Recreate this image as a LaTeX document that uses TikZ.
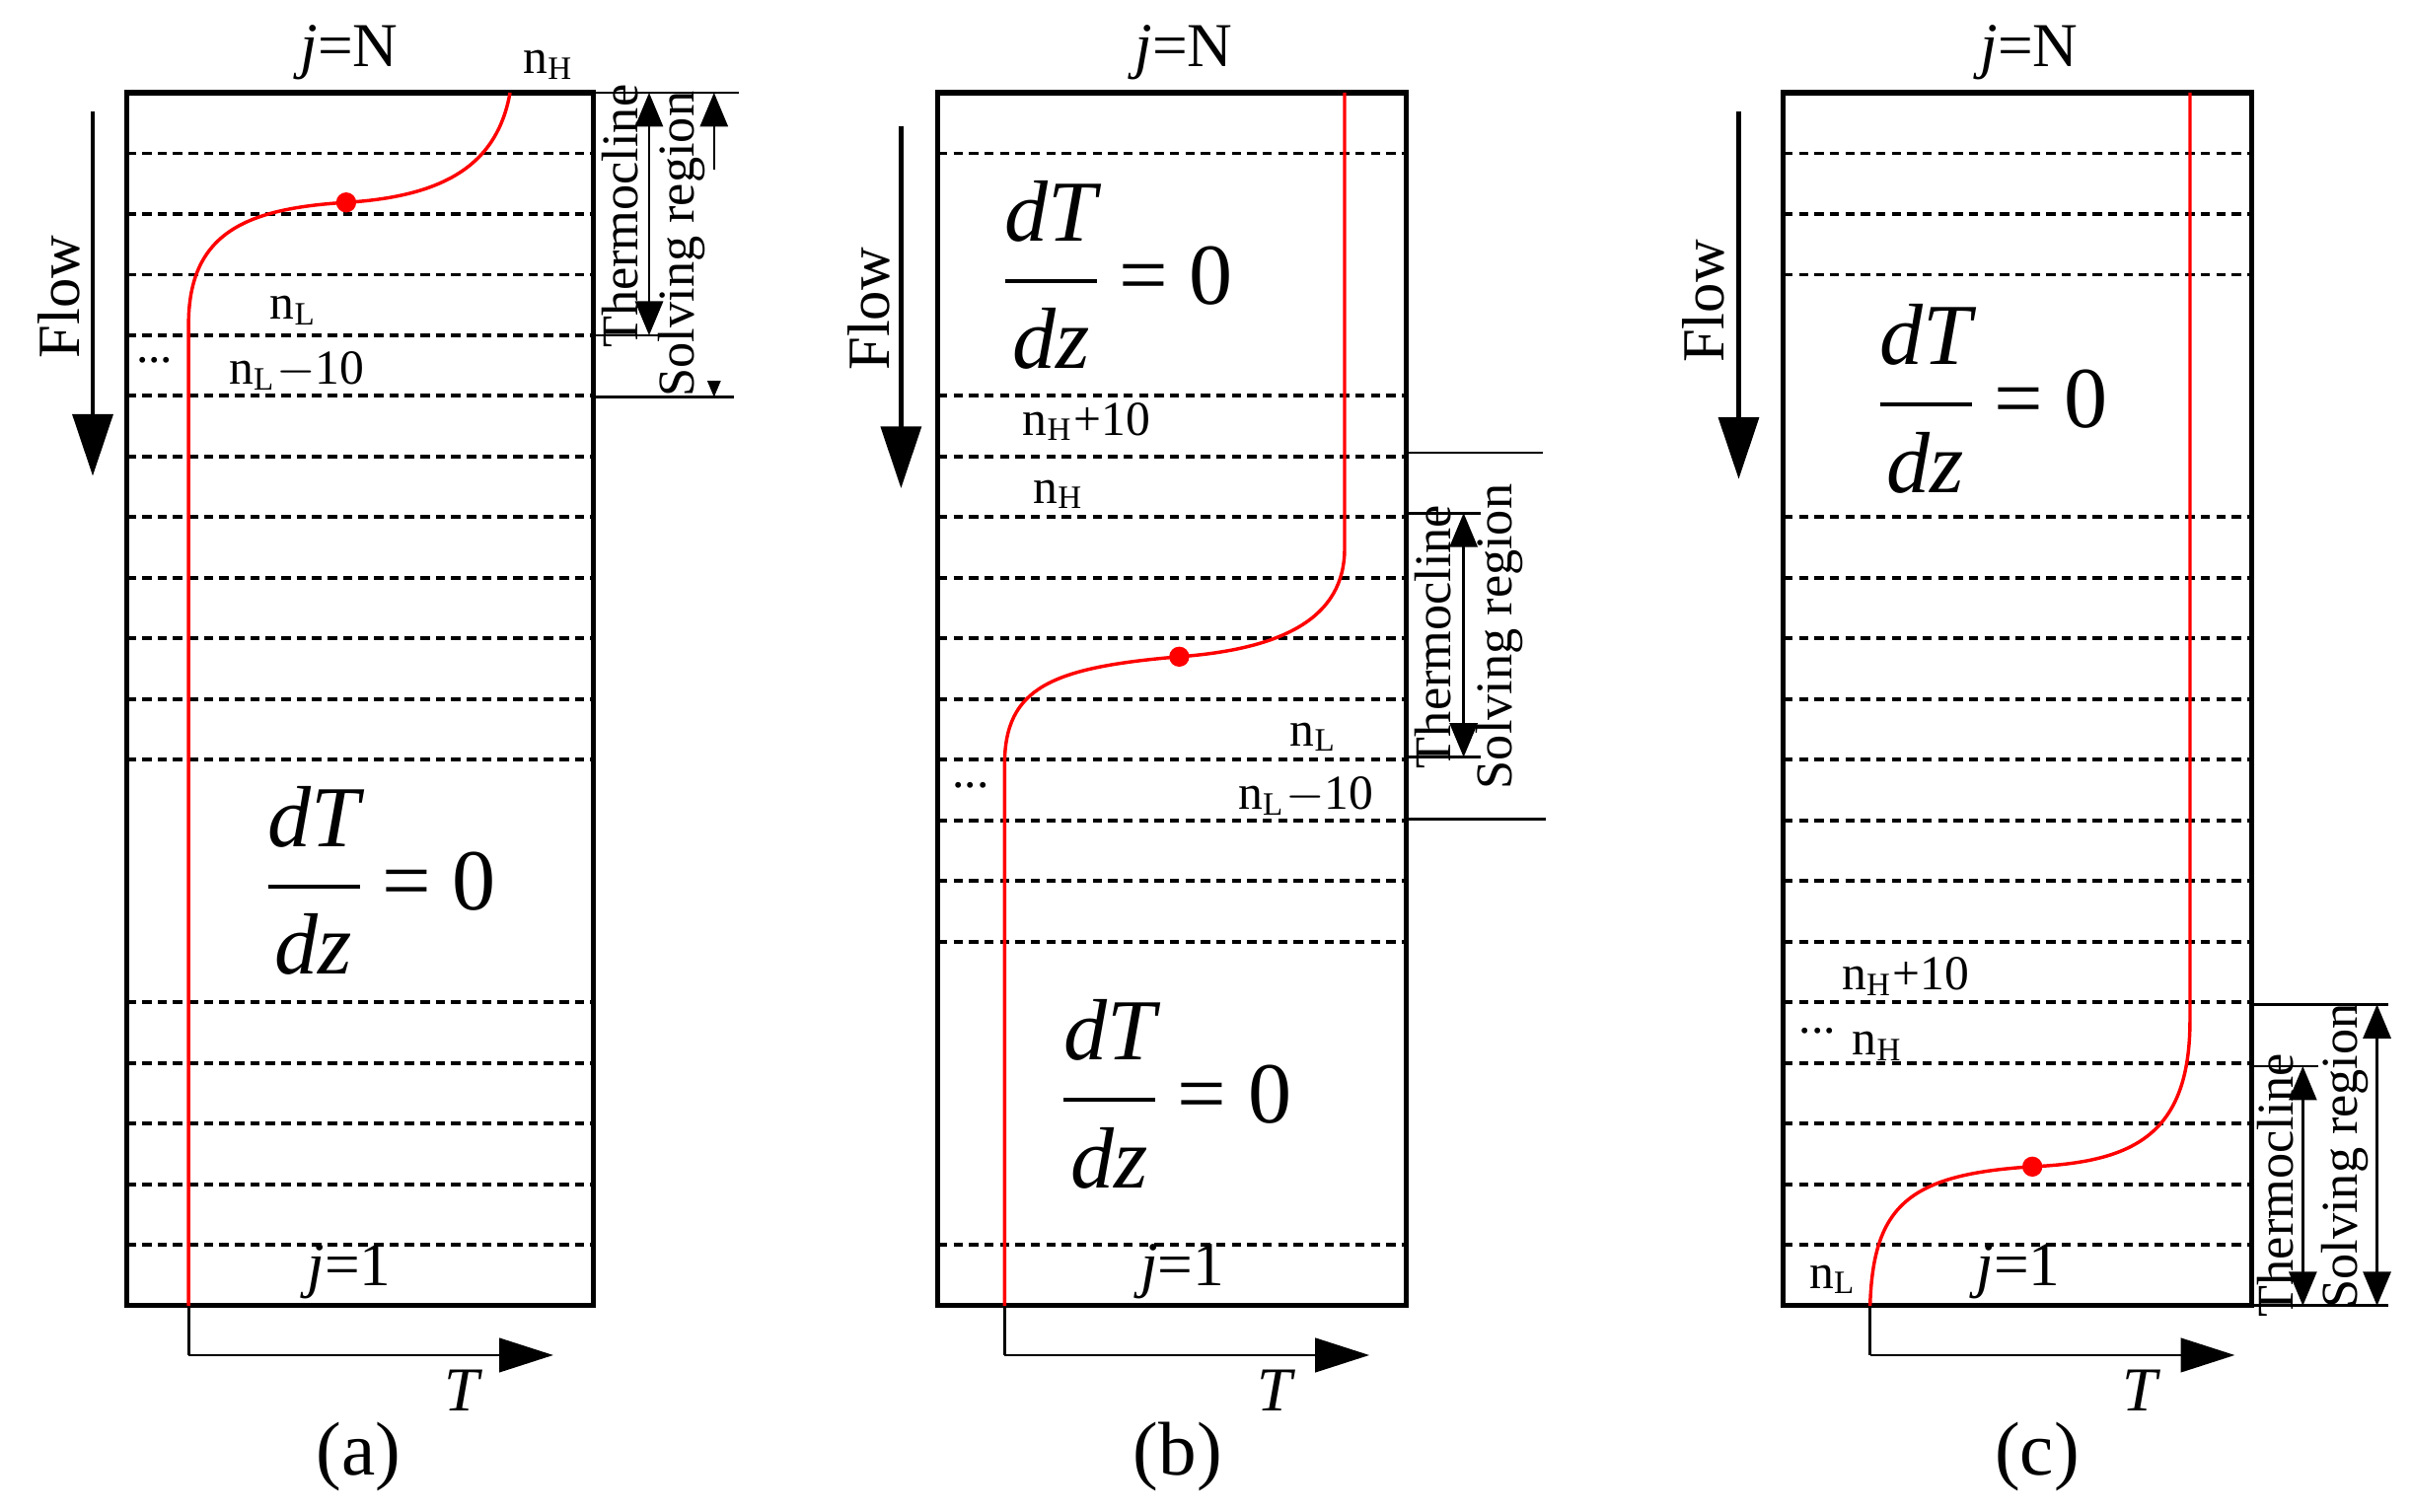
\documentclass[tikz,border=0pt]{standalone}
\usepackage{amsmath}
\usepackage{fontspec}
\setmainfont{Liberation Serif}
\usetikzlibrary{arrows.meta}
\newcommand{\dTdz}{$\dfrac{\textit{dT}}{\textit{dz}}\,\text{= 0}$}
\begin{document}
\begin{tikzpicture}[x=0.1mm,y=-0.1mm,
 box/.style={line width=0.32mm},
 dl/.style={line width=0.25mm,dash pattern=on 0.6mm off 0.4mm},
 rc/.style={red,line width=0.22mm},
 dot/.style={circle,fill=red,inner sep=0pt,minimum size=1.3mm},
 lab/.style={font=\fontsize{9}{10}\selectfont,inner sep=1pt},
 top/.style={font=\fontsize{11.5}{12}\selectfont},
 rot/.style={font=\fontsize{9.5}{10}\selectfont,inner sep=0pt},
 flow/.style={rotate=90,font=\fontsize{11}{12}\selectfont,inner sep=0pt},
 eq/.style={fill=white,font=\fontsize{16}{19}\selectfont,inner sep=2pt},
 sublab/.style={font=\fontsize{14}{16}\selectfont},
 bigarr/.style={line width=0.28mm,-{Triangle[length=4mm,width=2.6mm]}},
 dim/.style={line width=0.15mm,{Triangle[length=2.2mm,width=1.8mm]}-{Triangle[length=2.2mm,width=1.8mm]}},
 thin/.style={line width=0.18mm}]
\useasboundingbox (0,0) rectangle (1560,978);
% ---------- panel a
\foreach \i in {1,...,19}{\draw[dl] (82,60+\i*39.25) -- (384,60+\i*39.25);}
\node[eq,minimum width=160] (ea) at (245,570) {\dTdz};
\draw[box] (82,60) rectangle (384,845);
\draw[rc] (122,845) -- (122,210) .. controls (122,150) and (160,135) .. (224,131) .. controls (290,127) and (322,105) .. (330,60);
\node[dot] (da) at (224,131) {};
\node[top] (jna) at (226,34) {\textit{j}=N};
\node[lab] (nha) at (355,42) {n\textsubscript{H}};
\node[lab] (nla) at (190,201) {n\textsubscript{L}};
\node[lab] (dda) at (100,233) {...};
\node[lab] (nl10a) at (192,240) {n\textsubscript{L}$-$10};
\node[top] (j1a) at (226,823) {\textit{j}=1};
\coordinate (fa1) at (60,72); \coordinate (fa2) at (60,308);
\draw[bigarr] (fa1) -- (fa2);
\node[flow] (fla) at (38,192) {Flow};
\draw[thin] (384,60) -- (478,60);
\draw[thin] (384,217) -- (430,217);
\draw[thin] (384,257) -- (475,257);
\coordinate (ta1) at (420,60); \coordinate (ta2) at (420,217);
\draw[dim] (ta1) -- (ta2);
\coordinate (sa1) at (462,60); \coordinate (sa2) at (462,257);
\draw[dim] (sa1) -- (sa2);
\node[rot] (tha) at (401,140) {\rotatebox{90}{Thermocline}};
\coordinate (axa0) at (122,845); \coordinate (axa1) at (122,877); \coordinate (axa2) at (358,877);
\draw[thin] (axa0) -- (axa1);
\draw[line width=0.18mm,-{Triangle[length=3.5mm,width=2.2mm]}] (axa1) -- (axa2);
\node[top] (Ta) at (300,900) {\textit{T}};
\node[sublab] (ca) at (232,943) {(a)};
% ---------- panel b
\foreach \i in {1,...,19}{\draw[dl] (607,60+\i*39.25) -- (910,60+\i*39.25);}
\node[eq,minimum width=165] (eb1) at (722,178) {\dTdz};
\node[eq,minimum width=165] (eb2) at (760,708) {\dTdz};
\draw[box] (607,60) rectangle (910,845);
\draw[rc] (870,60) -- (870,355) .. controls (870,400) and (830,420) .. (763,425) .. controls (680,432) and (650,445) .. (650,495) -- (650,845);
\node[dot] (db) at (763,425) {};
\node[top] (jnb) at (766,34) {\textit{j}=N};
\node[lab] (nh10b) at (703,273) {n\textsubscript{H}+10};
\node[lab] (nhb) at (685,320) {n\textsubscript{H}};
\node[lab] (nlb) at (850,477) {n\textsubscript{L}};
\node[lab] (ddb) at (628,508) {...};
\node[lab] (nl10b) at (845,515) {n\textsubscript{L}$-$10};
\node[top] (j1b) at (765,823) {\textit{j}=1};
\coordinate (fb1) at (583,82); \coordinate (fb2) at (583,316);
\draw[bigarr] (fb1) -- (fb2);
\node[flow] (flb) at (562,200) {Flow};
\draw[thin] (910,293) -- (1000,293);
\draw[thin] (910,332) -- (958,332);
\draw[thin] (910,490) -- (958,490);
\draw[thin] (910,530) -- (1000,530);
\coordinate (tb1) at (947,332); \coordinate (tb2) at (947,490);
\draw[dim] (tb1) -- (tb2);
\node[rot] (thb) at (927,412) {\rotatebox{90}{Thermocline}};
\node[rot] (srb) at (970,412) {\rotatebox{90}{Solving region}};
\coordinate (axb0) at (650,845); \coordinate (axb1) at (650,877); \coordinate (axb2) at (886,877);
\draw[thin] (axb0) -- (axb1);
\draw[line width=0.18mm,-{Triangle[length=3.5mm,width=2.2mm]}] (axb1) -- (axb2);
\node[top] (Tb) at (826,900) {\textit{T}};
\node[sublab] (cb) at (762,943) {(b)};
% ---------- panel c
\foreach \i in {1,...,19}{\draw[dl] (1154,60+\i*39.25) -- (1457,60+\i*39.25);}
\node[eq,minimum width=165] (ec) at (1288,258) {\dTdz};
\draw[box] (1154,60) rectangle (1457,845);
\draw[rc] (1417,60) -- (1417,660) .. controls (1417,735) and (1380,752) .. (1315,755) .. controls (1235,760) and (1212,780) .. (1210,845);
\node[dot] (dc) at (1315,755) {};
\node[top] (jnc) at (1313,34) {\textit{j}=N};
\node[lab] (nh10c) at (1233,632) {n\textsubscript{H}+10};
\node[lab] (ddc) at (1176,667) {...};
\node[lab] (nhc) at (1215,677) {n\textsubscript{H}};
\node[lab] (nlc) at (1186,828) {n\textsubscript{L}};
\node[top] (j1c) at (1306,823) {\textit{j}=1};
\coordinate (fc1) at (1125,72); \coordinate (fc2) at (1125,310);
\draw[bigarr] (fc1) -- (fc2);
\node[flow] (flc) at (1102,195) {Flow};
\draw[thin] (1457,650) -- (1545,650);
\draw[thin] (1457,690) -- (1500,690);
\draw[thin] (1457,845) -- (1545,845);
\coordinate (tc1) at (1490,690); \coordinate (tc2) at (1490,845);
\draw[dim] (tc1) -- (tc2);
\coordinate (sc1) at (1538,650); \coordinate (sc2) at (1538,845);
\draw[dim] (sc1) -- (sc2);
\node[rot] (thc) at (1472,767) {\rotatebox{90}{Thermocline}};
\node[rot] (src) at (1517,748) {\rotatebox{90}{Solving region}};
\coordinate (axc0) at (1210,845); \coordinate (axc1) at (1210,877); \coordinate (axc2) at (1446,877);
\draw[thin] (axc0) -- (axc1);
\draw[line width=0.18mm,-{Triangle[length=3.5mm,width=2.2mm]}] (axc1) -- (axc2);
\node[top] (Tc) at (1386,900) {\textit{T}};
\node[sublab] (cc) at (1318,943) {(c)};
\node[rot,text=black] (sra) at (441,158) {\rotatebox{90}{Solving region}};
\end{tikzpicture}
\end{document}
